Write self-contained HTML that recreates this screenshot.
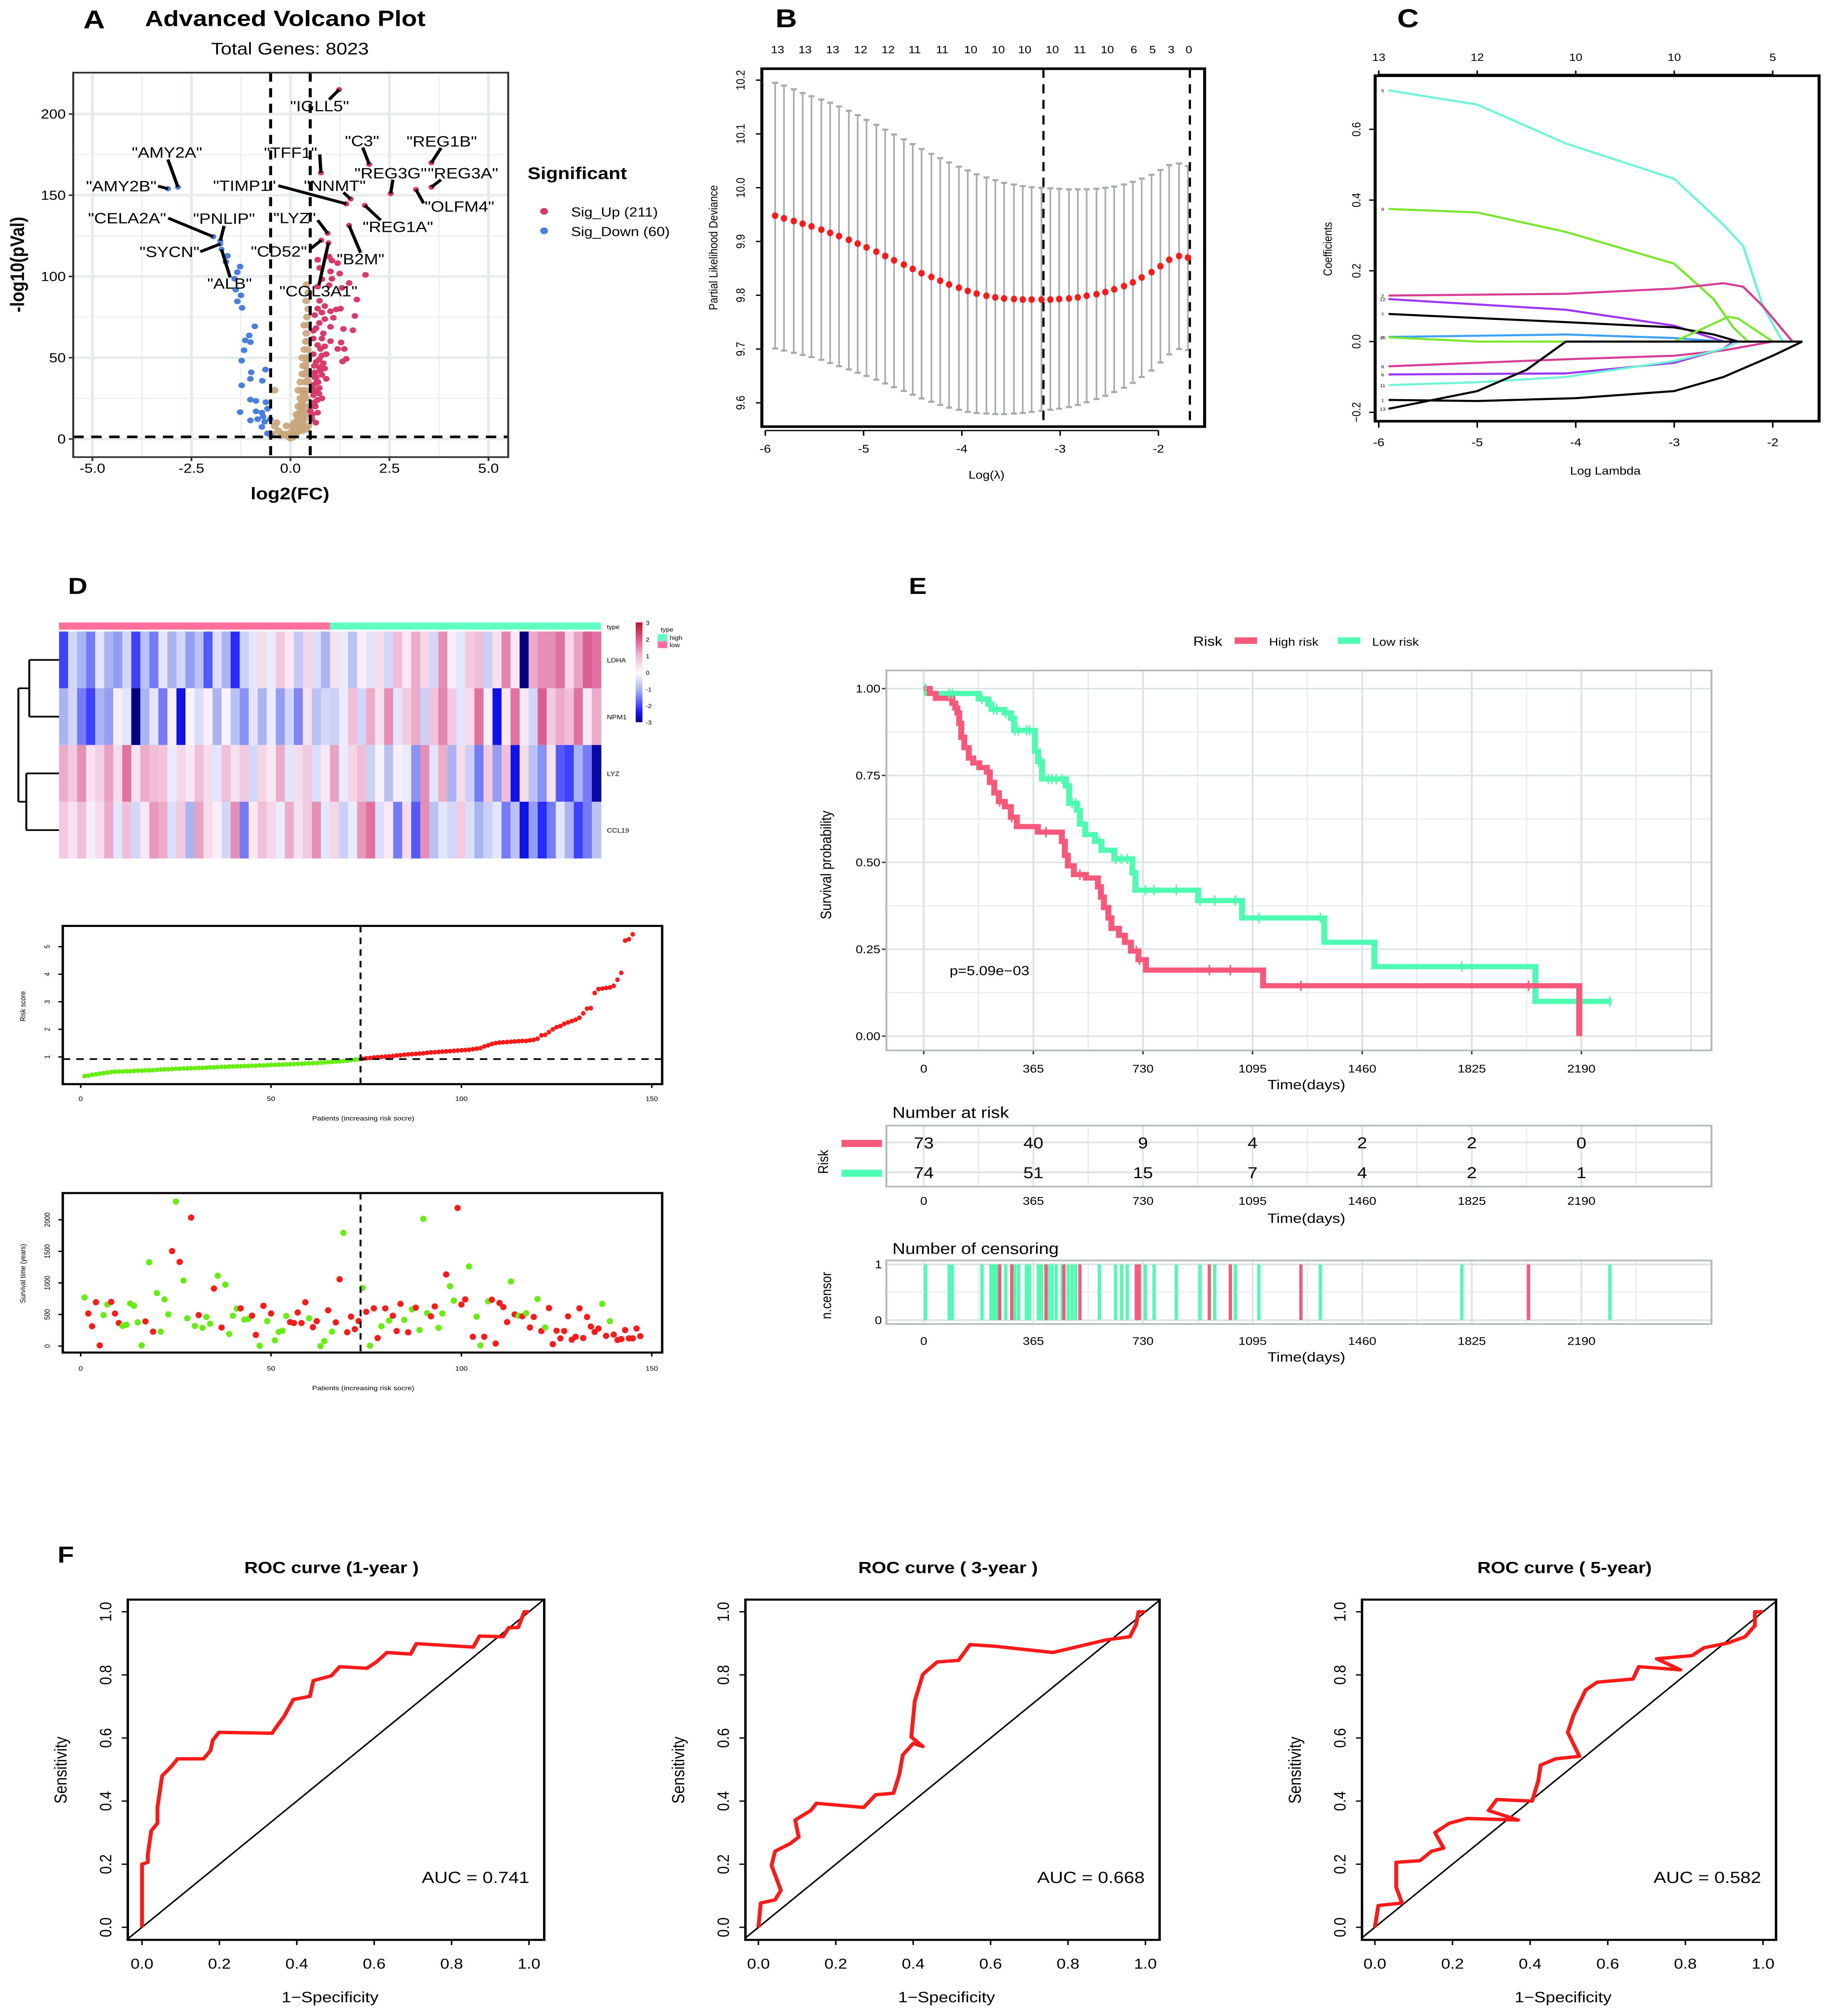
<!DOCTYPE html>
<html><head><meta charset="utf-8">
<style>
html,body{margin:0;padding:0;background:#fff;width:100%;height:100%;overflow:hidden;}
svg{display:block;position:absolute;left:0;top:0;width:100vw;height:100vh;font-family:"Liberation Sans",Arial,sans-serif;}
</style></head>
<body>
<svg id="fig" xmlns="http://www.w3.org/2000/svg" viewBox="0 0 1235 1554.6" preserveAspectRatio="none">
<rect x="0" y="0" width="1235" height="1554.6" fill="#fff"/>
</svg>
<script>
// ===================== DATA =====================
const volcanoXTicks = [-5, -2.5, 0, 2.5, 5];
const volcanoXTickLabels = ["-5.0", "-2.5", "0.0", "2.5", "5.0"];
const volcanoYTicks = [0, 50, 100, 150, 200];
const volcanoBlueX = [-1.59,-1.63,-1.27,-1.34,-1.41,-1.38,-1.25,-1.34,-1.22,-0.90,-1.04,-1.14,-1.01,-1.17,-1.23,-0.63,-0.99,-1.01,-0.71,-1.23,-1.01,-0.87,-0.62,-1.27,-0.87,-0.72,-0.58,-1.01,-0.83,-0.65,-0.72,-0.51,-0.58,-0.51,-0.69];
const volcanoBlueY = [112.7,109,106.1,102.6,98.6,91.9,88.4,84.7,80.7,69.3,63.7,60.7,59.6,54.6,48.2,42.7,41,37,35.8,33,24.2,23.4,22.6,16.5,17,16.2,18.6,11.4,12.2,10.6,7.4,12.2,3.4,2.6,13.8];
const volcanoRedX = [0.687,0.976,1.048,1.193,0.737,1.012,1.244,1.895,0.795,1.048,1.483,0.687,0.976,1.302,1.678,0.737,0.867,0.687,1.012,1.157,1.266,0.614,0.795,0.867,1.085,1.627,0.73,1.012,1.338,1.577,0.578,0.831,0.795,1.012,1.28,0.687,0.867,1.193,1.36,0.578,0.795,0.904,1.41,1.316,0.65,0.831,0.73,0.867,0.614,0.795,0.904,0.65,0.73,0.578,0.795,0.614,0.687,0.505,0.578,0.542,0.65,0.73,0.759,0.578,0.65,0.6,0.62,0.7,0.66,0.58,0.72,0.63,0.68,0.57,0.61,0.75,0.55,0.64];
const volcanoRedY = [110.3,112.2,109.8,108.2,105.3,103.1,101.8,101,98.3,98.6,96,93.8,94.6,93,85.8,85,81.8,80.2,78.6,79.7,80.2,76.2,77.8,73.8,74.6,75.7,71.4,69,67.7,66.9,66.6,65,61.8,60.2,59.4,57.8,57,55.4,55.4,52.2,51.4,52.2,49.3,47.7,47.4,46.6,44.2,43.4,41,39.4,37,34.6,31.4,29.8,25,22.6,16.2,17,20.2,12.2,37.8,49,55.4,61.8,68.2,45,40,35,30,27,28,20,24,33,38,42,15,10];
const volcanoTanX = [0.05,0.1,0.15,0.2,0.25,0.3,0.35,0.4,0.45,0.02,-0.2,-0.3,-0.35,-0.1,0.1,0.15,0.2,0.25,0.3,0.35,0.4,0.45,0.2,0.3,0.35,0.4,0.45,0.25,0.3,0.35,0.4,0.42,0.45,0.4,0.35,0.3,0.25,0.1,0.05,0.15,0.2,0.38,0.43,0.45,0.4,0.35,0.3,0.45,0.44,0.28,0.33,0.37,-0.4,-0.1,-0.4,-0.45,0.41,0.45,0.39,0.32,0.0,0.08,0.12,0.18,0.22,0.27,0.33,0.38,0.43,0.36,0.31,0.26,0.21,0.17,0.13,0.41,0.44,0.29,0.34,0.39,-0.05,-0.15,-0.25,0.0,0.06];
const volcanoTanY = [2,3,4,5,6,5,7,6,8,1,3,5,10,2,10,15,20,25,30,40,50,60,10,15,20,25,35,15,40,55,65,75,80,85,70,50,35,5,8,8,30,45,42,20,15,12,9,50,70,22,28,35,30,8,8,3,95,90,60,45,4,6,8,12,16,20,24,30,36,28,18,10,14,6,3,48,55,12,18,40,2,3,2,0.5,1];
const volcanoLabelNames = ["IGLL5","AMY2A","AMY2B","TFF1","C3","REG1B","REG3G","REG3A","OLFM4","NNMT","TIMP1","REG1A","CELA2A","PNLIP","SYCN","ALB","LYZ","CD52","COL3A1","B2M"];
const volcanoLabelFC = [1.23,-2.84,-3.09,0.77,1.99,3.56,2.53,3.56,3.17,1.52,1.41,1.88,-1.95,-1.77,-1.77,-1.74,0.94,0.78,0.96,1.48];
const volcanoLabelP = [215,155,154,163.8,169,170,151,155,153.5,147.7,144.7,143.7,124.5,122,120,116.7,126.6,122.3,120.7,131.4];

const cvLambda = [-5.9,-5.81,-5.71,-5.62,-5.53,-5.43,-5.34,-5.25,-5.15,-5.06,-4.97,-4.87,-4.78,-4.69,-4.59,-4.5,-4.41,-4.31,-4.22,-4.13,-4.03,-3.94,-3.85,-3.75,-3.66,-3.57,-3.47,-3.38,-3.29,-3.19,-3.1,-3.01,-2.91,-2.82,-2.73,-2.63,-2.54,-2.45,-2.35,-2.26,-2.17,-2.07,-1.98,-1.89,-1.79,-1.7];
const cvMean = [9.948,9.943,9.938,9.933,9.928,9.922,9.916,9.910,9.903,9.896,9.889,9.881,9.873,9.865,9.857,9.849,9.841,9.834,9.827,9.820,9.814,9.808,9.803,9.799,9.796,9.794,9.793,9.792,9.792,9.792,9.792,9.793,9.794,9.796,9.799,9.802,9.806,9.811,9.817,9.824,9.833,9.843,9.854,9.866,9.873,9.870];
const cvUpper = [10.195,10.19,10.183,10.176,10.17,10.164,10.158,10.151,10.143,10.135,10.126,10.117,10.108,10.099,10.09,10.081,10.072,10.063,10.055,10.047,10.039,10.032,10.025,10.019,10.014,10.009,10.006,10.003,10.001,10.0,9.999,9.998,9.997,9.997,9.997,9.998,10.0,10.002,10.006,10.011,10.017,10.024,10.033,10.042,10.045,10.04];
const cvLower = [9.701,9.697,9.693,9.689,9.685,9.680,9.674,9.668,9.662,9.656,9.650,9.643,9.636,9.629,9.622,9.615,9.608,9.602,9.596,9.591,9.587,9.583,9.581,9.580,9.579,9.579,9.580,9.581,9.583,9.585,9.587,9.589,9.592,9.596,9.601,9.607,9.613,9.620,9.628,9.637,9.648,9.66,9.675,9.690,9.700,9.698];
const cvTopLambda = [-5.875,-5.595,-5.315,-5.03,-4.75,-4.48,-4.2,-3.91,-3.63,-3.36,-3.08,-2.80,-2.52,-2.25,-2.06,-1.87,-1.69];
const cvTopCounts = ["13","13","13","12","12","11","11","10","10","10","10","11","10","6","5","3","0"];
const cvXTicks = [-6,-5,-4,-3,-2];
const cvYTicks = [9.6,9.7,9.8,9.9,10.0,10.1,10.2];
const cvLambdaMin = -3.17;
const cvLambda1se = -1.68;

const coefXTicks = [-6,-5,-4,-3,-2];
const coefTopCounts = ["13","12","10","10","5"];
const coefYTicks = [-0.2,0,0.2,0.4,0.6];
const coefNames = ["5","9","2","12","7","4","10","8","6","11","1","13"];
const coefColors = ["#6cf5d6","#78e62a","#d83c95","#9d36f0","#000000","#3fa3f5","#78e62a","#d83c95","#9d36f0","#6cf5d6","#000000","#000000"];
const coefL = [
 [-5.9,-5,-4.1,-3,-2.5,-2.3,-2.1,-1.9,-1.7],
 [-5.9,-5,-4.1,-3,-2.6,-2.4,-2.25,-1.7],
 [-5.9,-4.1,-3,-2.5,-2.3,-2.1,-1.8,-1.7],
 [-5.9,-4.1,-3,-2.5,-1.7],
 [-5.9,-4.1,-3,-2.6,-2.35,-1.7],
 [-5.9,-4.1,-3,-2.5,-1.7],
 [-5.9,-5,-3,-2.45,-2.35,-2.0,-1.7],
 [-5.9,-4.1,-3,-2.5,-2.0,-1.7],
 [-5.9,-4.1,-3,-2.5,-2.4,-1.7],
 [-5.9,-5,-4.1,-3,-2.5,-2.35,-1.7],
 [-5.9,-5,-4,-3,-2.5,-2,-1.7],
 [-5.9,-5,-4.5,-4.1,-1.7]
];
const coefV = [
 [0.71,0.67,0.56,0.46,0.33,0.27,0.1,0,0],
 [0.375,0.365,0.31,0.22,0.12,0.04,0,0],
 [0.13,0.135,0.15,0.165,0.155,0.1,0,0],
 [0.12,0.09,0.045,0,0],
 [0.078,0.055,0.04,0.02,0,0],
 [0.013,0.02,0.01,0,0],
 [0.012,0,0,0.07,0.065,0,0],
 [-0.07,-0.05,-0.04,-0.025,0,0],
 [-0.093,-0.09,-0.06,-0.02,0,0],
 [-0.123,-0.115,-0.1,-0.055,-0.02,0,0],
 [-0.165,-0.168,-0.16,-0.14,-0.1,-0.04,0],
 [-0.19,-0.14,-0.08,0,0]
];

const heatGenes = ["LDHA","NPM1","LYZ","CCL19"];
const heatLDHA = [-2,-0.5,-1,-1.5,-0.3,-1,-1.2,-0.5,-2,-0.8,-1.5,-0.3,-1,-0.5,-1.2,-0.8,-1.8,-0.4,-1,-2.2,-0.6,-0.3,0.5,-0.2,0.8,0.3,-0.7,0.6,-0.4,-1,0.4,-0.2,-0.8,0.2,-0.3,0.5,-0.5,1,0.3,1.2,0.6,-0.5,1.5,0.2,-0.3,0.8,1,-0.6,0.4,1.6,0.3,-3,1.2,1.5,1.5,1.8,0.6,1.3,2,1.8];
const heatNPM1 = [-1,-0.5,-1.5,-2,-1,-1.2,0.2,-0.3,-3,-1,-0.3,-1.5,0.2,-2.5,0.1,-0.4,0.2,-1,0.1,-0.8,-1.3,-0.3,-1,-0.2,-1.2,-0.5,-1.4,0.4,-0.8,-0.5,-0.6,-0.2,1,-0.5,1.2,0.4,1.5,-0.3,0.8,1.2,-0.6,0.9,1.6,0.8,-0.3,0.5,1.8,0.2,-2.5,0.3,1.8,0.3,-0.5,2,0.8,1.2,1,1.8,0.3,1.2];
const heatLYZ = [1.2,0.8,1.5,0.4,0.7,1.3,0.5,1.8,0.4,1.2,1,0.9,-0.2,0.6,0.3,1,0.5,-0.3,1,0.4,0.8,-0.5,0.6,0.3,1.2,-0.3,0.5,0.8,-0.4,0.3,1.3,-0.2,0.6,1,-0.6,0.1,-0.8,0.2,-0.2,-1.3,1.5,-0.3,1.2,-1,0.5,-0.6,-1.5,0.8,-1.2,1,-2.5,0.5,-0.8,-1.3,0.4,-1.8,-2,-1,-1.5,-2.8];
const heatCCL19 = [0.8,0.4,1,0.2,0.5,1.2,-0.3,1,-0.5,0.3,1.4,1.2,-0.4,0.8,-1,1.3,0.5,0.2,-0.5,1.5,-1.5,0.3,1,0.6,-0.2,1.2,0.4,0.8,1.5,-0.3,0.6,-0.6,-0.2,1.4,1.8,-0.4,0.3,-1.5,0.5,-1.8,1.5,-0.8,-0.3,-0.5,0.8,-0.4,-1,-0.6,-0.3,-1.5,-0.8,-2.5,-1.2,-2.2,-1.5,-0.3,-1,-2,-1.5,-0.8];
const heatLowCount = 30;

const riskLow = [0.3,0.32,0.35,0.37,0.39,0.41,0.43,0.45,0.46,0.47,0.47,0.48,0.48,0.49,0.5,0.5,0.51,0.51,0.52,0.53,0.54,0.55,0.55,0.56,0.57,0.57,0.58,0.58,0.59,0.59,0.6,0.6,0.61,0.62,0.62,0.63,0.64,0.64,0.65,0.65,0.66,0.66,0.67,0.67,0.68,0.68,0.69,0.69,0.7,0.71,0.71,0.72,0.72,0.73,0.73,0.74,0.75,0.75,0.76,0.77,0.77,0.78,0.79,0.8,0.81,0.82,0.83,0.84,0.85,0.86,0.88,0.9,0.91];
const riskHigh = [0.93,0.95,0.96,0.98,0.99,1.0,1.01,1.02,1.03,1.05,1.06,1.08,1.09,1.1,1.11,1.12,1.13,1.15,1.16,1.17,1.18,1.19,1.2,1.21,1.22,1.23,1.24,1.25,1.26,1.28,1.3,1.32,1.38,1.42,1.47,1.5,1.52,1.53,1.54,1.55,1.56,1.57,1.58,1.58,1.6,1.62,1.66,1.78,1.8,1.9,2.0,2.08,2.12,2.2,2.25,2.3,2.35,2.42,2.58,2.75,2.77,3.32,3.46,3.48,3.5,3.52,3.58,3.8,4.05,5.22,5.27,5.45];
const riskCutoff = 0.92;
const riskXTicks = [0,50,100,150];
const riskYTicks = [1,2,3,4,5];

const survTime = [770,516,314,694,10,491,658,699,516,365,319,339,673,638,375,10,390,1327,228,840,228,739,501,1504,2288,1332,1038,440,2035,319,491,289,461,354,911,1114,294,972,192,481,592,597,420,430,481,177,5,638,395,516,91,223,243,476,380,365,532,365,694,440,299,395,0,81,567,228,375,1058,1792,218,466,268,395,921,542,5,597,127,314,597,405,481,238,668,415,218,582,608,253,2015,521,471,628,289,516,1134,947,719,2187,658,739,1261,147,466,10,147,709,734,41,683,618,380,1023,501,481,471,521,294,461,744,238,294,602,30,243,122,238,471,101,147,597,127,461,309,223,278,668,162,395,182,96,111,253,122,122,278,157];
const survDead = [0,1,1,1,1,0,0,1,1,1,0,0,0,0,0,0,1,0,1,0,0,0,0,1,0,1,0,0,1,0,1,0,0,0,1,0,1,0,0,0,0,1,0,0,1,1,0,1,0,1,0,0,0,0,1,1,1,1,1,0,1,1,0,0,1,0,1,1,0,1,1,1,1,0,1,0,1,1,0,1,0,1,1,1,0,1,0,1,0,0,0,1,1,0,0,1,0,0,1,1,1,0,1,0,0,1,0,1,1,1,1,1,0,1,0,1,0,1,1,0,1,0,1,1,1,1,1,1,1,1,1,1,1,1,1,1,0,1,0,1,1,1,1,1,1,1,1];
const survYTicks = [0,500,1000,1500,2000];

const kmHighT = [0,20,40,95,105,112,118,125,135,150,165,185,210,220,235,250,270,290,310,380,460,470,480,500,540,580,590,600,615,625,650,670,690,715,740,1130,2183];
const kmHighS = [1,0.986,0.972,0.958,0.944,0.93,0.9,0.86,0.83,0.8,0.786,0.773,0.76,0.73,0.7,0.675,0.66,0.63,0.603,0.587,0.56,0.52,0.49,0.465,0.455,0.43,0.4,0.37,0.34,0.31,0.29,0.27,0.245,0.22,0.19,0.145,0];
const kmHighEnd = 2183;
const kmLowT = [0,11,183,215,226,269,290,301,370,381,394,473,484,510,520,538,570,592,635,695,705,914,1060,1334,1501,2037];
const kmLowS = [1,0.986,0.97,0.955,0.94,0.93,0.915,0.88,0.82,0.79,0.74,0.72,0.67,0.65,0.61,0.58,0.56,0.535,0.51,0.47,0.42,0.39,0.34,0.27,0.20,0.10];
const kmLowEnd = 2291;
const censorHigh = [253,293,407,467,520,708,718,951,1021,1256,2014];
const censorLow = [6,85,95,194,224,233,243,273,303,316,342,352,382,392,415,427,441,461,481,494,506,585,639,659,678,738,767,841,920,969,1038,1116,1321,1792,2285];
const kmXTicks = [0,365,730,1095,1460,1825,2190];
const kmYTicks = [0,0.25,0.5,0.75,1];
const kmYTickLabels = ["0.00","0.25","0.50","0.75","1.00"];
const riskTableHigh = [73,40,9,4,2,2,0];
const riskTableLow = [74,51,15,7,4,2,1];

const roc1FPR = [0,0,0.015,0.015,0.024,0.04,0.04,0.052,0.076,0.092,0.159,0.177,0.183,0.199,0.336,0.352,0.367,0.391,0.434,0.443,0.489,0.511,0.581,0.606,0.633,0.694,0.709,0.856,0.872,0.933,0.948,0.972,0.988,1];
const roc1TPR = [0,0.2,0.206,0.23,0.306,0.33,0.38,0.48,0.51,0.534,0.534,0.56,0.593,0.618,0.615,0.643,0.668,0.722,0.732,0.782,0.797,0.826,0.821,0.841,0.871,0.866,0.899,0.888,0.923,0.921,0.95,0.95,1,1];
const roc2FPR = [0,0.006,0.043,0.058,0.034,0.043,0.083,0.104,0.095,0.135,0.15,0.272,0.303,0.349,0.364,0.373,0.4,0.425,0.395,0.404,0.425,0.462,0.517,0.547,0.609,0.761,0.899,0.96,0.976,0.982,1];
const roc2TPR = [0,0.077,0.087,0.117,0.196,0.241,0.266,0.286,0.34,0.37,0.393,0.38,0.42,0.425,0.484,0.546,0.583,0.573,0.603,0.717,0.802,0.841,0.846,0.896,0.891,0.871,0.911,0.921,0.96,1,1];
const roc3FPR = [0,0.009,0.07,0.055,0.055,0.116,0.146,0.177,0.155,0.192,0.238,0.369,0.293,0.314,0.405,0.421,0.427,0.466,0.527,0.497,0.512,0.543,0.573,0.665,0.68,0.787,0.726,0.817,0.848,0.909,0.954,0.979,0.979,1];
const roc3TPR = [0,0.069,0.077,0.127,0.206,0.211,0.241,0.251,0.3,0.33,0.345,0.34,0.37,0.405,0.4,0.464,0.514,0.534,0.542,0.618,0.673,0.752,0.777,0.787,0.826,0.816,0.851,0.861,0.886,0.901,0.921,0.956,1,1];
const rocTitles = ["ROC curve (1-year )","ROC curve ( 3-year )","ROC curve ( 5-year)"];
const rocAUC = ["0.741","0.668","0.582"];
const rocTicks = [0,0.2,0.4,0.6,0.8,1];
const rocTickLabels = ["0.0","0.2","0.4","0.6","0.8","1.0"];

// ===================== HELPERS =====================
const NS = "http://www.w3.org/2000/svg";
const svg = document.getElementById("fig");
function mk(tag, attrs, parent) {
  const el = document.createElementNS(NS, tag);
  for (const k in attrs) el.setAttribute(k, attrs[k]);
  (parent || svg).appendChild(el);
  return el;
}
function grp(name) {
  const g = mk("g", {});
  
  
  return g;
}
function txt(parent, x, y, s, size, name, opts) {
  opts = opts || {};
  const a = {x: x, y: y, "font-size": size, fill: opts.fill || "#000", "text-anchor": opts.anchor || "middle"};
  if (opts.weight) a["font-weight"] = opts.weight;
  if (opts.rot !== undefined) a.transform = "rotate(" + opts.rot + " " + x + " " + y + ")";
  if (opts.baseline) a["dominant-baseline"] = opts.baseline;
  const t = mk("text", a, parent);
  t.textContent = s;
  
  
  return t;
}
function line(parent, x1, y1, x2, y2, stroke, w, name, dash) {
  const a = {x1: x1, y1: y1, x2: x2, y2: y2, stroke: stroke, "stroke-width": w};
  if (dash) a["stroke-dasharray"] = dash;
  const l = mk("line", a, parent);
  
  
  return l;
}
function rect(parent, x, y, w, h, fill, name, stroke, sw) {
  const a = {x: x, y: y, width: w, height: h, fill: fill};
  if (stroke) { a.stroke = stroke; a["stroke-width"] = sw; }
  const r = mk("rect", a, parent);
  
  
  return r;
}

// ===================== PANEL A =====================
(function(){
  const g = grp("volcano-panel");
  const ax = v => 194.3 + v * 26.5;
  const ay = v => 338.5 - v * 1.253;
  const L = 49, R = 340, T = 56, B = 352.5;
  txt(g, 63, 22, "A", 20, "panel-label-a", {weight: "bold"});
  txt(g, 97, 20, "Advanced Volcano Plot", 17, "volcano-title", {weight: "bold", anchor: "start"});
  txt(g, 194, 42, "Total Genes: 8023", 13, "volcano-subtitle");
  rect(g, L, T, R - L, B - T, "#fff", "volcano-plot-area");
  for (let v = -6.25; v <= 6.25; v += 2.5) { const x = ax(v); if (x > L && x < R) line(g, x, T, x, B, "#eef1f1", 1, "volcano-minor-grid-x"); }
  for (let v = 25; v <= 225; v += 50) { const y = ay(v); if (y > T && y < B) line(g, L, y, R, y, "#eef1f1", 1, "volcano-minor-grid-y"); }
  volcanoXTicks.forEach((v, i) => {
    line(g, ax(v), T, ax(v), B, "#e6ebeb", 2, "volcano-grid-x");
    line(g, ax(v), B, ax(v), B + 3, "#333", 1.2, "volcano-x-tick");
    txt(g, ax(v), B + 12, volcanoXTickLabels[i], 10, "volcano-x-tick-label");
  });
  volcanoYTicks.forEach(v => {
    line(g, L, ay(v), R, ay(v), "#e6ebeb", 2, "volcano-grid-y");
    line(g, L - 3, ay(v), L, ay(v), "#333", 1.2, "volcano-y-tick");
    txt(g, L - 5, ay(v) + 3.5, String(v), 10, "volcano-y-tick-label", {anchor: "end"});
  });
  volcanoTanX.forEach((x, i) => {
    const c = mk("circle", {cx: ax(x), cy: ay(volcanoTanY[i]), r: 2.6, fill: "#c9a57a", "fill-opacity": 0.9}, g);
    
    
  });
  volcanoBlueX.forEach((x, i) => {
    const c = mk("circle", {cx: ax(x), cy: ay(volcanoBlueY[i]), r: 2.2, fill: "#4a7fe0"}, g);
    
    
  });
  volcanoRedX.forEach((x, i) => {
    const c = mk("circle", {cx: ax(x), cy: ay(volcanoRedY[i]), r: 2.2, fill: "#d93a6a"}, g);
    
    
  });
  line(g, ax(-0.5), T, ax(-0.5), B, "#000", 2, "fc-threshold-left", "7,5");
  line(g, ax(0.5), T, ax(0.5), B, "#000", 2, "fc-threshold-right", "7,5");
  line(g, L, ay(1.3), R, ay(1.3), "#000", 2, "p-threshold", "7,5");
  const lblDX = [-13.1,-7.3,-31.3,-20.3,-4.8,6.9,0,21.1,29.1,-10.6,-68.1,22.1,-57.6,2.5,-34,5.4,-22.1,-28.4,-6.7,7.7];
  const lblDY = [12.7,-26.7,-2,-15.6,-18,-16.4,-15.7,-10.7,13,-10.2,-14,16.5,-14.3,-17.1,6,26.3,-11.7,8.6,37.3,26];
  const lblFromX = [-6.7,-6.7,-6.7,-0.8,-4.4,6.4,1.5,6.4,5.1,-4.8,-45.5,10.6,-30.1,2.5,-13.4,5.8,-6.7,-7.3,-6.4,7.7];
  const lblFromY = [7.7,-21.3,-2,-14.2,-13,-11.4,-10.7,-5.7,10.6,-5,-14,11.4,-14.3,-11.4,6,21.7,-10.1,6.6,32.7,21];
  volcanoLabelNames.forEach((n, i) => {
    const px = ax(volcanoLabelFC[i]), py = ay(volcanoLabelP[i]);
    const c = mk("circle", {cx: px, cy: py, r: 2, fill: volcanoLabelFC[i] < 0 ? "#4a7fe0" : "#d93a6a"}, g);
    
    
    line(g, px + lblFromX[i], py + lblFromY[i], px, py, "#000", 2.2, "volcano-label-leader");
    txt(g, px + lblDX[i], py + lblDY[i] + 4, '"' + n + '"', 11.5, "volcano-gene-label");
  });
  rect(g, L, T, R - L, B - T, "none", "volcano-frame", "#333", 1.3);
  txt(g, 194, 385, "log2(FC)", 13, "volcano-x-axis-title", {weight: "bold"});
  txt(g, 16, 204, "-log10(pVal)", 13, "volcano-y-axis-title", {weight: "bold", rot: -90});
  txt(g, 353, 138, "Significant", 13, "legend-title", {weight: "bold", anchor: "start"});
  const lc1 = mk("circle", {cx: 364, cy: 163, r: 2.6, fill: "#d93a6a"}, g);
  
  
  txt(g, 382, 167, "Sig_Up (211)", 10, "legend-sig-up-label", {anchor: "start"});
  const lc2 = mk("circle", {cx: 364, cy: 178, r: 2.6, fill: "#4a7fe0"}, g);
  
  
  txt(g, 382, 182, "Sig_Down (60)", 10, "legend-sig-down-label", {anchor: "start"});
})();

// ===================== PANEL B =====================
(function(){
  const g = grp("lasso-cv-panel");
  const bx = l => 512 + (l + 6) * 65.75;
  const by = v => 61.8 + (10.2 - v) * 414.7;
  const L = 509.7, R = 805.9, T = 53, B = 329;
  txt(g, 526, 21, "B", 20, "panel-label-b", {weight: "bold"});
  cvTopLambda.forEach((l, i) => txt(g, bx(l), 41, cvTopCounts[i], 8, "cv-top-count"));
  cvLambda.forEach((l, i) => {
    const x = bx(l);
    line(g, x, by(cvUpper[i]), x, by(cvLower[i]), "#a3adb1", 1.1, "cv-error-bar");
    line(g, x - 2, by(cvUpper[i]), x + 2, by(cvUpper[i]), "#a3adb1", 1.6, "cv-error-cap-upper");
    line(g, x - 2, by(cvLower[i]), x + 2, by(cvLower[i]), "#a3adb1", 1.6, "cv-error-cap-lower");
  });
  line(g, bx(cvLambdaMin), T, bx(cvLambdaMin), B, "#000", 1.5, "lambda-min-line", "7,5");
  line(g, bx(cvLambda1se), T, bx(cvLambda1se), B, "#000", 1.5, "lambda-1se-line", "7,5");
  cvLambda.forEach((l, i) => {
    const c = mk("ellipse", {cx: bx(l), cy: by(cvMean[i]), rx: 2.1, ry: 2.6, fill: "#ff1a1a"}, g);
    
    
  });
  rect(g, L, T, R - L, B - T, "none", "cv-frame", "#000", 2);
  line(g, bx(-6), B + 3, bx(-2), B + 3, "#000", 1, "cv-x-axis-line");
  cvXTicks.forEach(v => {
    line(g, bx(v), B + 3, bx(v), B + 7, "#000", 1, "cv-x-tick");
    txt(g, bx(v), 349, String(v), 8.5, "cv-x-tick-label");
  });
  cvYTicks.forEach(v => {
    line(g, L - 4, by(v), L, by(v), "#000", 1, "cv-y-tick");
    txt(g, 496, by(v), v.toFixed(1), 8, "cv-y-tick-label", {rot: -90, baseline: "middle"});
  });
  txt(g, 660, 369, "Log(\u03bb)", 8.5, "cv-x-axis-title");
  txt(g, 480, 191, "Partial Likelihood Deviance", 8, "cv-y-axis-title", {rot: -90});
})();

// ===================== PANEL C =====================
(function(){
  const g = grp("coefficient-path-panel");
  const cx = l => 922.4 + (l + 6) * 65.9;
  const cy = v => 263.4 - v * 272.8;
  const L = 920, R = 1217, T = 58.4, B = 324.8;
  txt(g, 942, 21, "C", 20, "panel-label-c", {weight: "bold"});
  coefXTicks.forEach((v, i) => {
    line(g, cx(v), T - 4, cx(v), T, "#000", 1, "coef-top-tick");
    txt(g, cx(v), 47, coefTopCounts[i], 8, "coef-top-count");
    line(g, cx(v), B, cx(v), B + 5, "#000", 1, "coef-x-tick");
    txt(g, cx(v), 344, String(v), 8.5, "coef-x-tick-label");
  });
  line(g, cx(-6), T - 1, cx(-2), T - 1, "#000", 1, "coef-top-axis-line");
  coefYTicks.forEach(v => {
    line(g, L - 4, cy(v), L, cy(v), "#000", 1, "coef-y-tick");
    txt(g, 908, cy(v), v.toFixed(1).replace("-", "\u2212"), 8, "coef-y-tick-label", {rot: -90, baseline: "middle"});
  });
  coefL.forEach((ls, k) => {
    const pts = ls.map((l, i) => cx(l).toFixed(2) + "," + cy(coefV[k][i]).toFixed(2)).join(" ");
    const p = mk("polyline", {points: pts, fill: "none", stroke: coefColors[k], "stroke-width": 1.6, "stroke-linejoin": "round"}, g);
    
    
    txt(g, 925, cy(coefV[k][0]) + 1.5, coefNames[k], 3.5, "coef-path-label");
  });
  rect(g, L, T, R - L, B - T, "none", "coef-frame", "#000", 2);
  txt(g, 1074, 366, "Log Lambda", 8.5, "coef-x-axis-title");
  txt(g, 891, 192, "Coefficients", 8, "coef-y-axis-title", {rot: -90});
})();

// ===================== PANEL D: HEATMAP =====================
(function(){
  const g = grp("risk-heatmap-panel");
  txt(g, 52, 458, "D", 18, "panel-label-d", {weight: "bold"});
  const X0 = 39.5, X1 = 402, Y0 = 487, RH = 43.75;
  const rows = [heatLDHA, heatNPM1, heatLYZ, heatCCL19];
  const n = heatLDHA.length, cw = (X1 - X0) / n;
  const stops = [[-3,[0,0,128]],[-2.4,[20,20,255]],[-1,[170,180,240]],[0,[250,250,255]],[1,[240,190,215]],[2,[220,95,145]],[3,[200,16,46]]];
  function col(v) {
    v = Math.max(-3, Math.min(3, v));
    for (let i = 0; i < stops.length - 1; i++) {
      const a = stops[i], b = stops[i + 1];
      if (v >= a[0] && v <= b[0]) {
        const t = (v - a[0]) / (b[0] - a[0]);
        const c = a[1].map((x, j) => Math.round(x + (b[1][j] - x) * t));
        return "rgb(" + c.join(",") + ")";
      }
    }
    return "#fff";
  }
  rect(g, X0, 480, (X1 - X0) * heatLowCount / n, 5.5, "#ff6e9c", "annotation-low-bar");
  rect(g, X0 + (X1 - X0) * heatLowCount / n, 480, (X1 - X0) * (n - heatLowCount) / n, 5.5, "#5effc1", "annotation-high-bar");
  txt(g, 406, 485, "type", 4.5, "annotation-label", {anchor: "start"});
  rows.forEach((r, ri) => {
    r.forEach((v, ci) => {
      const c = mk("rect", {x: X0 + ci * cw, y: Y0 + ri * RH, width: cw + 0.3, height: RH, fill: col(v)}, g);
      
      
    });
    txt(g, 406, Y0 + ri * RH + RH / 2 + 2, heatGenes[ri], 4.8, "heatmap-gene-label", {anchor: "start"});
  });
  const yc = i => Y0 + i * RH + RH / 2;
  line(g, 19.6, yc(0), X0, yc(0), "#000", 1.3, "dendrogram-branch");
  line(g, 19.6, yc(1), X0, yc(1), "#000", 1.3, "dendrogram-branch");
  line(g, 19.6, yc(0), 19.6, yc(1), "#000", 1.3, "dendrogram-branch");
  line(g, 17.6, yc(2), X0, yc(2), "#000", 1.3, "dendrogram-branch");
  line(g, 17.6, yc(3), X0, yc(3), "#000", 1.3, "dendrogram-branch");
  line(g, 17.6, yc(2), 17.6, yc(3), "#000", 1.3, "dendrogram-branch");
  line(g, 12.3, (yc(0) + yc(1)) / 2, 19.6, (yc(0) + yc(1)) / 2, "#000", 1.3, "dendrogram-branch");
  line(g, 12.3, (yc(2) + yc(3)) / 2, 17.6, (yc(2) + yc(3)) / 2, "#000", 1.3, "dendrogram-branch");
  line(g, 12.3, (yc(0) + yc(1)) / 2, 12.3, (yc(2) + yc(3)) / 2, "#000", 1.3, "dendrogram-branch");
  for (let i = 0; i < 60; i++) {
    const v = 3 - i * 0.1;
    rect(g, 425.3, 480 + i * 1.28, 4.5, 1.4, col(v), "color-scale-step");
  }
  [3,2,1,0,-1,-2,-3].forEach(v => txt(g, 432, 480 + (3 - v) * 12.8 + 2, String(v), 4.5, "color-scale-label", {anchor: "start"}));
  txt(g, 442, 487, "type", 4.5, "type-legend-title", {anchor: "start"});
  rect(g, 440, 489, 6.5, 5.3, "#5effc1", "type-legend-high-key");
  txt(g, 448, 493.5, "high", 4.5, "type-legend-high", {anchor: "start"});
  rect(g, 440, 494.5, 6.5, 5.3, "#ff6e9c", "type-legend-low-key");
  txt(g, 448, 499, "low", 4.5, "type-legend-low", {anchor: "start"});
})();

// ===================== PANEL D: RISK SCORE =====================
(function(){
  const g = grp("risk-score-plot");
  const L = 42, R = 443, T = 714, B = 836;
  const px = i => 54 + i * 2.547;
  const ry = v => 815 - (v - 1) * 21.25;
  const all = riskLow.concat(riskHigh);
  all.forEach((v, i) => {
    const c = mk("ellipse", {cx: px(i + 1), cy: ry(v), rx: 1.5, ry: 1.8, fill: i < riskLow.length ? "#66ee11" : "#ff1a1a"}, g);
    
    
  });
  line(g, L, ry(riskCutoff), R, ry(riskCutoff), "#000", 1.3, "risk-cutoff-line", "5,4");
  line(g, px(riskLow.length + 0.5), T, px(riskLow.length + 0.5), B, "#000", 1.3, "risk-split-line", "5,4");
  rect(g, L, T, R - L, B - T, "none", "risk-frame", "#000", 1.6);
  riskXTicks.forEach(v => {
    line(g, px(v), B, px(v), B + 3, "#000", 1, "risk-x-tick");
    txt(g, px(v), 849, String(v), 5, "risk-x-tick-label");
  });
  riskYTicks.forEach(v => {
    line(g, L - 3, ry(v), L, ry(v), "#000", 1, "risk-y-tick");
    txt(g, 32, ry(v), String(v), 5, "risk-y-tick-label", {rot: -90, baseline: "middle"});
  });
  txt(g, 243, 864, "Patients (increasing risk socre)", 5, "risk-x-axis-title");
  txt(g, 17, 776, "Risk score", 5, "risk-y-axis-title", {rot: -90});
})();

// ===================== PANEL D: SURVIVAL SCATTER =====================
(function(){
  const g = grp("survival-status-plot");
  const L = 42, R = 443, T = 920, B = 1043;
  const px = i => 54 + i * 2.547;
  const sy = v => 1038 - v * 0.0487;
  survTime.forEach((t, i) => {
    const c = mk("ellipse", {cx: px(i + 1), cy: sy(t), rx: 2.1, ry: 2.4, fill: survDead[i] ? "#ff1a1a" : "#66ee11"}, g);
    
    
  });
  line(g, px(riskLow.length + 0.5), T, px(riskLow.length + 0.5), B, "#000", 1.3, "survival-split-line", "5,4");
  rect(g, L, T, R - L, B - T, "none", "survival-frame", "#000", 1.6);
  riskXTicks.forEach(v => {
    line(g, px(v), B, px(v), B + 3, "#000", 1, "survival-x-tick");
    txt(g, px(v), 1057, String(v), 5, "survival-x-tick-label");
  });
  survYTicks.forEach(v => {
    line(g, L - 3, sy(v), L, sy(v), "#000", 1, "survival-y-tick");
    txt(g, 32, sy(v), String(v), 5, "survival-y-tick-label", {rot: -90, baseline: "middle"});
  });
  txt(g, 243, 1072, "Patients (increasing risk socre)", 5, "survival-x-axis-title");
  txt(g, 17, 982, "Survival time (years)", 5, "survival-y-axis-title", {rot: -90});
})();

// ===================== PANEL E: KM =====================
(function(){
  const g = grp("kaplan-meier-panel");
  const kx = d => 618 + d * 0.2009;
  const ky = s => 799 - s * 268;
  const L = 593, R = 1145, T = 517, B = 810;
  txt(g, 614, 458, "E", 18, "panel-label-e", {weight: "bold"});
  txt(g, 808, 498, "Risk", 10, "km-legend-title");
  rect(g, 826, 491.5, 15, 5, "#f8587a", "km-legend-high-key");
  txt(g, 849, 498, "High risk", 8.5, "km-legend-high", {anchor: "start"});
  rect(g, 895, 491.5, 15, 5, "#4dfcb0", "km-legend-low-key");
  txt(g, 918, 498, "Low risk", 8.5, "km-legend-low", {anchor: "start"});
  rect(g, L, T, R - L, B - T, "#fff", "km-plot-area");
  for (let d = 182.5; d < 2700; d += 365) { const x = kx(d); if (x < R) line(g, x, T, x, B, "#e6ebeb", 0.8, "km-minor-grid-x"); }
  for (let s = 0.125; s < 1; s += 0.25) line(g, L, ky(s), R, ky(s), "#e6ebeb", 0.8, "km-minor-grid-y");
  [0,365,730,1095,1460,1825,2190,2555].forEach(d => { if (kx(d) < R) line(g, kx(d), T, kx(d), B, "#dde3e3", 1.2, "km-grid-x"); });
  kmYTicks.forEach((s, i) => {
    line(g, L, ky(s), R, ky(s), "#dde3e3", 1.2, "km-grid-y");
    line(g, L - 3, ky(s), L, ky(s), "#333", 1, "km-y-tick");
    txt(g, L - 4, ky(s) + 3, kmYTickLabels[i], 8.5, "km-y-tick-label", {anchor: "end"});
  });
  kmXTicks.forEach(d => {
    line(g, kx(d), B, kx(d), B + 3, "#333", 1, "km-x-tick");
    txt(g, kx(d), 827, String(d), 8.5, "km-x-tick-label");
  });
  function stepPath(T_, S_, end) {
    let d = "M" + kx(T_[0]) + "," + ky(S_[0]);
    for (let i = 1; i < T_.length; i++) d += " H" + kx(T_[i]).toFixed(2) + " V" + ky(S_[i]).toFixed(2);
    d += " H" + kx(end).toFixed(2);
    return d;
  }
  function survAt(T_, S_, t) { let s = S_[0]; for (let i = 0; i < T_.length; i++) if (T_[i] <= t) s = S_[i]; return s; }
  const pl = mk("path", {d: stepPath(kmLowT, kmLowS, kmLowEnd), fill: "none", stroke: "#4dfcb0", "stroke-width": 4}, g);
  
  
  const ph = mk("path", {d: stepPath(kmHighT, kmHighS, kmHighEnd), fill: "none", stroke: "#f8587a", "stroke-width": 4}, g);
  
  
  censorLow.forEach(t => line(g, kx(t), ky(survAt(kmLowT, kmLowS, t)) - 4, kx(t), ky(survAt(kmLowT, kmLowS, t)) + 4, "#4dfcb0", 1, "km-censor-low"));
  censorHigh.forEach(t => line(g, kx(t), ky(survAt(kmHighT, kmHighS, t)) - 4, kx(t), ky(survAt(kmHighT, kmHighS, t)) + 4, "#f8587a", 1, "km-censor-high"));
  rect(g, L, T, R - L, B - T, "none", "km-frame", "#b3bcbc", 1.3);
  txt(g, 662, 752, "p=5.09e\u221203", 10, "km-p-value");
  txt(g, 874, 840, "Time(days)", 10.5, "km-x-axis-title");
  txt(g, 556, 667, "Survival probability", 10, "km-y-axis-title", {rot: -90});

  txt(g, 597, 862, "Number at risk", 12, "risk-table-title", {anchor: "start"});
  const TT = 868, TB = 915;
  rect(g, L, TT, R - L, TB - TT, "#fff", "risk-table-area");
  [182.5,547.5,912.5,1277.5,1642.5,2007.5,2372.5].forEach(d => line(g, kx(d), TT, kx(d), TB, "#e6ebeb", 0.8, "risk-table-minor-grid"));
  kmXTicks.forEach(d => line(g, kx(d), TT, kx(d), TB, "#dde3e3", 1.1, "risk-table-grid"));
  line(g, L, 881, R, 881, "#dde3e3", 1.3, "risk-table-row-line");
  line(g, L, 904, R, 904, "#dde3e3", 1.3, "risk-table-row-line");
  rect(g, L, TT, R - L, TB - TT, "none", "risk-table-frame", "#b3bcbc", 1.3);
  rect(g, 563, 879, 27, 5.5, "#f8587a", "risk-table-high-key");
  rect(g, 563, 902, 27, 5.5, "#4dfcb0", "risk-table-low-key");
  kmXTicks.forEach((d, i) => {
    txt(g, kx(d), 885.5, String(riskTableHigh[i]), 12, "risk-table-high-count");
    txt(g, kx(d), 908.5, String(riskTableLow[i]), 12, "risk-table-low-count");
    txt(g, kx(d), 929, String(d), 8.5, "risk-table-x-tick-label");
  });
  txt(g, 874, 943, "Time(days)", 10.5, "risk-table-x-axis-title");
  txt(g, 554, 896, "Risk", 9.5, "risk-table-y-axis-title", {rot: -90});

  txt(g, 597, 967, "Number of censoring", 12, "censor-title", {anchor: "start"});
  const CT = 972, CB = 1021;
  const cy1 = 975, cy0 = 1018;
  rect(g, L, CT, R - L, CB - CT, "#fff", "censor-area");
  [182.5,547.5,912.5,1277.5,1642.5,2007.5,2372.5].forEach(d => line(g, kx(d), CT, kx(d), CB, "#e6ebeb", 0.8, "censor-minor-grid"));
  kmXTicks.forEach(d => line(g, kx(d), CT, kx(d), CB, "#dde3e3", 1.1, "censor-grid"));
  line(g, L, cy1, R, cy1, "#dde3e3", 1.3, "censor-grid-y");
  line(g, L, (cy1 + cy0) / 2, R, (cy1 + cy0) / 2, "#e6ebeb", 0.8, "censor-grid-y");
  line(g, L, cy0, R, cy0, "#dde3e3", 1.3, "censor-grid-y");
  censorLow.forEach(t => line(g, kx(t), cy1, kx(t), cy0, "#4dfcb0", 2.2, "censor-bar-low"));
  censorHigh.forEach(t => line(g, kx(t), cy1, kx(t), cy0, "#f8587a", 2.2, "censor-bar-high"));
  rect(g, L, CT, R - L, CB - CT, "none", "censor-frame", "#b3bcbc", 1.3);
  txt(g, 590, cy1 + 3, "1", 8.5, "censor-y-tick-label", {anchor: "end"});
  txt(g, 590, cy0 + 3, "0", 8.5, "censor-y-tick-label", {anchor: "end"});
  kmXTicks.forEach(d => txt(g, kx(d), 1037, String(d), 8.5, "censor-x-tick-label"));
  txt(g, 874, 1050, "Time(days)", 10.5, "censor-x-axis-title");
  txt(g, 556, 999, "n.censor", 9.5, "censor-y-axis-title", {rot: -90});
})();

// ===================== PANEL F: ROC =====================
(function(){
  const g = grp("roc-panel");
  txt(g, 44, 1205, "F", 18, "panel-label-f", {weight: "bold"});
  const frames = [[85.5,364.1,95,353.9],[498.7,775.8,507.4,766.3],[911.2,1188.2,919.8,1179.5]];
  const fprs = [roc1FPR, roc2FPR, roc3FPR], tprs = [roc1TPR, roc2TPR, roc3TPR];
  const T = 1233.5, B = 1495.9;
  const ry = t => 1486.2 - t * 243.3;
  frames.forEach((f, k) => {
    const gg = grp("roc-plot-" + (k + 1));
    g.appendChild(gg);
    const rx = v => f[2] + v * (f[3] - f[2]);
    const cxm = (f[0] + f[1]) / 2;
    txt(gg, cxm - 3, 1213, rocTitles[k], 12.5, "roc-title", {weight: "bold"});
    const tL = (f[0] - f[2]) / (f[3] - f[2]);
    const tTop = (1486.2 - T) / 243.3;
    const sx = Math.max(tL, (1486.2 - B) / 243.3);
    const ex = Math.min(tTop, (f[1] - f[2]) / (f[3] - f[2]));
    line(gg, rx(sx), ry(sx), rx(ex), ry(ex), "#000", 1.1, "roc-diagonal");
    const pts = fprs[k].map((v, i) => rx(v).toFixed(2) + "," + ry(tprs[k][i]).toFixed(2)).join(" ");
    const p = mk("polyline", {points: pts, fill: "none", stroke: "#ff1a1a", "stroke-width": 2.6, "stroke-linejoin": "round"}, gg);
    
    
    rect(gg, f[0], T, f[1] - f[0], B - T, "none", "roc-frame", "#000", 1.6);
    rocTicks.forEach((v, i) => {
      line(gg, rx(v), B, rx(v), B + 4, "#000", 1, "roc-x-tick");
      txt(gg, rx(v), 1518, rocTickLabels[i], 11, "roc-x-tick-label");
      line(gg, f[0] - 4, ry(v), f[0], ry(v), "#000", 1, "roc-y-tick");
      txt(gg, f[0] - 14, ry(v), rocTickLabels[i], 11, "roc-y-tick-label", {rot: -90, baseline: "middle"});
    });
    txt(gg, cxm - 4, 1544, "1\u2212Specificity", 11.5, "roc-x-axis-title");
    txt(gg, f[0] - 41, 1365, "Sensitivity", 11.5, "roc-y-axis-title", {rot: -90});
    txt(gg, f[1] - 10, 1452, "AUC =  " + rocAUC[k], 12.5, "roc-auc-label", {anchor: "end"});
  });
})();
</script>
</body></html>
